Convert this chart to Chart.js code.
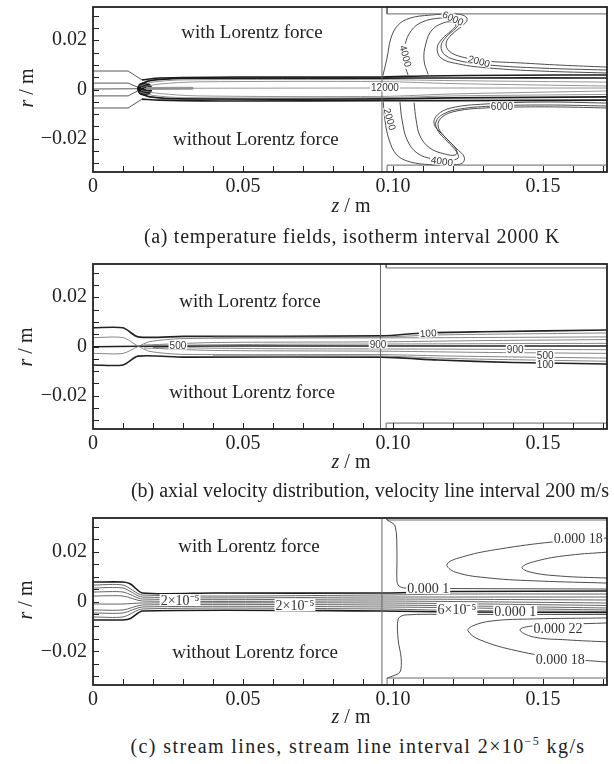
<!DOCTYPE html>
<html>
<head>
<meta charset="utf-8">
<script src="https://cdn.jsdelivr.net/npm/chart.js"></script>
<style>
  body { margin: 0; background: #fff; }
  #page { position: relative; width: 614px; height: 764px; overflow: hidden;
          font-family: 'Liberation Serif', 'Times New Roman', serif; color: #222; }
  canvas { position: absolute; left: 0; }
  .t { position: absolute; white-space: nowrap; transform: translate(-50%, -50%); font-size: 20px; }
  .ax { font-size: 20px; }
  .yl { font-size: 20px; transform: translate(-50%, -50%) rotate(-90deg); }
  sup { font-size: 12px; vertical-align: 8px; line-height: 0; }
</style>
</head>
<body>
<div id="page">
  <canvas id="ca" width="614" height="200" style="top:0"></canvas>
  <canvas id="cb" width="614" height="202" style="top:255px"></canvas>
  <canvas id="cc" width="614" height="203" style="top:510px"></canvas>

  <div class="t yl" style="left:26px;top:88px"><i>r</i> / m</div>
  <div class="t yl" style="left:25px;top:347px"><i>r</i> / m</div>
  <div class="t yl" style="left:25px;top:600px"><i>r</i> / m</div>

  <div class="t ax" style="left:351px;top:205px"><i>z</i> / m</div>
  <div class="t ax" style="left:351px;top:461px"><i>z</i> / m</div>
  <div class="t ax" style="left:351px;top:716px"><i>z</i> / m</div>

  <div class="t" style="left:352px;top:236px;letter-spacing:0.7px">(a) temperature fields, isotherm interval 2000 K</div>
  <div class="t" style="left:370px;top:490px">(b) axial velocity distribution, velocity line interval 200 m/s</div>
  <div class="t" style="left:358px;top:746px;letter-spacing:1.4px">(c) stream lines, stream line interval 2×10<sup>−5</sup> kg/s</div>
</div>
<script>
// axes (m)
const zTicks = [0, 0.05, 0.10, 0.15];
const zTickLabels = ['0', '0.05', '0.10', '0.15'];
const rTicks = [-0.02, 0, 0.02];
const rTickLabels = ['\u22120.02', '0', '0.02'];
const zMax = 0.1713, rMin = -0.0335, rMax = 0.0335;

// all contour coordinates below are [z, r] in mm

// (a) temperature
const domainA = [
  [[96.3, -33.5], [96.3, 33.5]],
  [[98, 33.5], [98, 30.7], [171.3, 30.7]],
  [[98, -33.5], [98, -30.7], [171.3, -30.7]]
];
const isoInletA = [
  [[0, 7.5], [11.7, 7.5], [16.3, 3.9]],
  [[0, 2.6], [11.7, 2.6], [14.8, 1.0]],
  [[0, 0.2], [14.8, 0.3]],
  [[0, -2.6], [11.7, -2.6], [14.8, -0.6]],
  [[0, -7.5], [11.7, -7.5], [16.3, -3.9]]
];
const isoJetEdgeA = [
  [[16.3, 3.9], [22.3, 4.7], [48, 5.1], [96.3, 5.1], [110, 5.5], [140, 5.8], [171.3, 5.9]],
  [[15.5, 2.0], [19, 3.6], [30, 4.5], [96.3, 4.6], [120, 4.7], [171.3, 4.7]],
  [[15.5, -1.5], [19, -3.0], [30, -3.8], [96.3, -3.8], [120, -3.4], [171.3, -3.0]],
  [[16.3, -3.9], [22.3, -4.3], [48, -4.7], [96.3, -4.5], [120, -4.5], [171.3, -4.3]]
];
const isoJetCoreA = [
  [[15.5, 1.4], [20, 3.0], [30, 3.9], [96.3, 4.0], [120, 3.6], [171.3, 3.0]],
  [[16, 0.8], [22, 2.2], [35, 3.1], [96.3, 3.2], [120, 2.4], [171.3, 1.4]],
  [[17, 0.4], [30, 0.5], [96.3, 0.6], [171.3, 0.6]],
  [[16, -0.4], [22, -1.6], [35, -2.6], [96.3, -2.8], [120, -1.8], [171.3, -0.6]],
  [[15.5, -1.0], [20, -2.4], [30, -3.3], [96.3, -3.3], [120, -2.6], [171.3, -2.0]]
];
const isoHotSpotA = [[[16.8, 0.2], [17.6, 0.2]]];
const isoWakeA = [[[18, 0.4], [33, 0.5]]];
const isoUpperA = [
  [[96.6, 5.6], [98, 12.8], [99.3, 20.9], [101.7, 26.2], [105.7, 29.0], [112.3, 30.2], [119, 30.6], [123.3, 30.2],
   [124.7, 28.4], [123, 25.8], [119.7, 22.5], [117.7, 18.9], [118.7, 15.6], [123, 13.2], [130.7, 11.6], [142.3, 10.8],
   [155.7, 9.9], [171.3, 9.1]],
  [[105, 5.9], [103.7, 11.2], [104, 18.1], [106, 23.8], [109.7, 27.4], [115.7, 29.0], [121, 29.0], [122.7, 27.8],
   [121, 25.0], [117.7, 21.3], [116, 17.7], [117.3, 14.0], [122.3, 11.6], [132.3, 9.9], [149, 8.7], [171.3, 7.9]],
  [[111.7, 6.1], [110.3, 12.0], [111, 18.9], [113, 24.2], [116.7, 27.0], [119.7, 27.4], [121, 26.2], [119.3, 23.8],
   [116.3, 20.5], [114.7, 16.8], [116, 12.8], [121.7, 10.4], [132.3, 8.7], [149, 7.5], [171.3, 6.7]]
];
const isoLowerA = [
  [[96.7, -4.9], [97.3, -12.4], [98.7, -20.5], [101.3, -26.6], [105.7, -29.4], [112.3, -30.5], [119, -30.5], [123, -30.0],
   [123.7, -27.4], [121, -23.8], [117, -18.9], [115, -14.8], [116.3, -11.2], [121.3, -8.7], [130.7, -7.5], [142.3, -7.1],
   [155.7, -7.1], [171.3, -7.5]],
  [[102.3, -5.1], [103, -12.4], [104.7, -20.5], [108, -25.8], [113.3, -28.2], [119, -28.6], [121.7, -27.8], [121, -25.0],
   [118, -21.0], [115, -16.9], [114.3, -13.2], [116.7, -10.0], [122.3, -7.9], [134, -6.7], [150.7, -6.3], [171.3, -6.7]],
  [[107, -5.3], [107.7, -12.4], [109, -18.9], [112.3, -23.8], [117.3, -26.2], [120.7, -26.6], [121.3, -25.0], [119.3, -21.7],
   [116, -17.7], [113.7, -14.0], [114.7, -10.4], [119.3, -7.5], [130.7, -5.9], [149, -5.1], [171.3, -5.5]]
];
const labelsA = [
  { t: '6000', z: 120, r: 29.0, a: 25 },
  { t: '4000', z: 104.3, r: 13.6, a: 75 },
  { t: '2000', z: 128.7, r: 11.6, a: 15 },
  { t: '12000', z: 97.3, r: 1.0, a: 0 },
  { t: '6000', z: 136.3, r: -6.7, a: 0 },
  { t: '2000', z: 99, r: -12.0, a: 75 },
  { t: '4000', z: 116.3, r: -29.0, a: 8 }
];
const notesA = [
  { t: 'with Lorentz force', z: 53, r: 22.9 },
  { t: 'without Lorentz force', z: 54.3, r: -20.5 }
];

// (b) axial velocity
const domainB = [
  [[95.8, -33.5], [95.8, 33.5]],
  [[97.7, 33.5], [97.7, 31.9], [171.3, 31.9]],
  [[97.7, -33.5], [97.7, -31.1], [171.3, -31.1]]
];
const velEdgeB = [
  [[0, 7.6], [10, 7.6], [15, 3.9], [30, 4.1], [96.3, 4.3], [110, 5.5], [130, 6.0], [171.3, 6.7]],
  [[0, -7.5], [10, -7.5], [15, -3.9], [30, -4.3], [96.3, -4.3], [115, -5.5], [140, -6.5], [171.3, -7.1]],
  [[0, -0.1], [15, 0.1], [40, 0.2], [96.3, 0.2], [171.3, 0.2]]
];
const velInnerB = [
  [[0, 3.6], [10, 3.6], [15, 0.2], [19, -2.0], [30, -3.2], [96.3, -3.3], [120, -3.9], [171.3, -4.7]],
  [[0, -2.8], [10, -2.8], [15, 0.0], [19, 2.0], [30, 3.2], [96.3, 3.5], [120, 3.6], [171.3, 3.9]],
  [[17, 0.6], [40, 1.6], [96.3, 1.9], [130, 2.4], [171.3, 2.8]],
  [[17, -0.6], [40, -1.6], [96.3, -1.9], [130, -2.4], [171.3, -2.8]],
  [[20, 0.4], [60, 0.9], [96.3, 1.0], [171.3, 1.3]],
  [[20, -0.4], [60, -0.9], [96.3, -1.0], [171.3, -1.3]],
  [[40, 3.8], [96.3, 3.9], [115, 4.7], [171.3, 5.5]],
  [[40, -3.8], [96.3, -3.9], [120, -4.9], [171.3, -6.0]]
];
const labelsB = [
  { t: '500', z: 28.3, r: 0.6, a: 0 },
  { t: '900', z: 95, r: 1.0, a: 0 },
  { t: '100', z: 111.7, r: 5.5, a: -3 },
  { t: '900', z: 140.7, r: -1.0, a: 0 },
  { t: '500', z: 150.7, r: -3.5, a: 0 },
  { t: '100', z: 150.7, r: -7.1, a: 0 }
];
const notesB = [
  { t: 'with Lorentz force', z: 52.3, r: 18.1 },
  { t: 'without Lorentz force', z: 53, r: -18.9 }
];

// (c) stream lines
const domainC = [
  [[96.3, -33.5], [96.3, 33.5]],
  [[98, 33.5], [98, 32.7], [171.3, 32.7]],
  [[98, -33.5], [98, -30.7], [171.3, -30.7]]
];
const streamEdgeC = [
  [[0, 7.8], [10, 7.8], [12.5, 7.0], [16.5, 3.4], [40, 3.4], [96.3, 3.4], [120, 4.0], [171.3, 4.2]],
  [[0, -7.4], [10, -7.4], [12.5, -6.8], [16.5, -3.8], [96.3, -3.8], [120, -4.2], [171.3, -4.4]]
];
const streamInnerC = [
  [[0, 6.6], [10, 6.6], [16.5, 2.6], [96.3, 2.6], [120, 3.0], [171.3, 3.0]],
  [[0, 5.4], [10, 5.4], [16.5, 1.8], [96.3, 1.8], [171.3, 1.8]],
  [[0, 3.8], [10, 3.8], [16.5, 1.0], [96.3, 1.0], [171.3, 0.6]],
  [[0, 2.2], [10, 2.2], [16.5, 0.2], [96.3, 0.2], [171.3, -0.6]],
  [[0, -1.0], [10, -1.0], [16.5, -0.6], [96.3, -0.6], [171.3, -1.6]],
  [[0, -3.4], [10, -3.4], [16.5, -1.4], [96.3, -1.4], [171.3, -2.6]],
  [[0, -4.6], [10, -4.6], [16.5, -2.2], [96.3, -2.2], [171.3, -3.4]],
  [[0, -6.2], [10, -6.2], [16.5, -3.0], [96.3, -3.0], [120, -3.6], [171.3, -4.0]]
];
const streamWallC = [
  [[98, 32.7], [100.7, 30.3], [101.3, 18.6], [101.3, 8.2], [102, 6.2], [104, 5.4], [120, 5.2], [171.3, 5.0]],
  [[171.3, -5.2], [120, -5.2], [104, -5.4], [101.7, -7.0], [101.7, -15.4], [102.7, -22.7], [102.3, -28.3], [99, -30.3], [98, -30.7]]
];
const streamCellC = [
  [[171.3, 25.5], [153.3, 23.9], [135.7, 21.1], [124, 18.2], [118, 15.0], [120.7, 11.8], [132.3, 9.4], [149, 8.2], [171.3, 7.4]],
  [[171.3, 19.8], [159, 18.6], [149, 16.6], [143, 13.8], [145.7, 11.8], [155.7, 10.2], [171.3, 9.4]],
  [[171.3, -6.6], [146.7, -7.0], [133, -7.8], [126.5, -9.8], [125, -11.8], [129, -15.4], [141.3, -19.8], [155.7, -22.7], [171.3, -24.3]],
  [[171.3, -8.6], [146.7, -9.8], [142.3, -11.4], [146.7, -14.2], [158, -15.4], [171.3, -16.2]]
];
const labelsC = [
  { t: '2×10⁻⁵', z: 29, r: 0.6, a: 0 },
  { t: '2×10⁻⁵', z: 67.3, r: -1.4, a: 0 },
  { t: '0.000 18', z: 161.7, r: 25.5, a: 0 },
  { t: '0.000 1', z: 111.7, r: 5.4, a: 0 },
  { t: '6×10⁻⁵', z: 121.3, r: -3.0, a: 0 },
  { t: '0.000 1', z: 140.7, r: -3.8, a: 0 },
  { t: '0.000 22', z: 155, r: -10.6, a: 0 },
  { t: '0.000 18', z: 155.7, r: -23.1, a: 0 }
];
const notesC = [
  { t: 'with Lorentz force', z: 52, r: 21.9 },
  { t: 'without Lorentz force', z: 54, r: -20.7 }
];

const SERIF = "'Liberation Serif', 'Times New Roman', serif";

function lines(list, color, width, tension, cap) {
  return list.map(l => ({
    data: l.map(([z, r]) => ({ x: z / 1000, y: r / 1000 })),
    showLine: true, pointRadius: 0, fill: false,
    borderColor: color, borderWidth: width, tension: tension || 0,
    borderCapStyle: cap || 'butt'
  }));
}

function frame(labels, notes, labelFont, labelH) {
  return {
    id: 'frame',
    afterDatasetsDraw(chart) {
      const { ctx, chartArea: a, scales: { x, y } } = chart;
      ctx.save();
      // contour labels
      ctx.font = labelFont;
      ctx.textAlign = 'center';
      ctx.textBaseline = 'middle';
      labels.forEach(l => {
        const px = x.getPixelForValue(l.z / 1000), py = y.getPixelForValue(l.r / 1000);
        const w = ctx.measureText(l.t).width;
        ctx.save();
        ctx.translate(px, py);
        ctx.rotate(l.a * Math.PI / 180);
        ctx.fillStyle = '#fff';
        ctx.fillRect(-w / 2 - 1, -labelH / 2, w + 2, labelH);
        ctx.fillStyle = '#333';
        ctx.fillText(l.t, 0, 1);
        ctx.restore();
      });
      // region notes
      ctx.font = '19px ' + SERIF;
      ctx.fillStyle = '#222';
      notes.forEach(n => ctx.fillText(n.t, x.getPixelForValue(n.z / 1000), y.getPixelForValue(n.r / 1000)));
      // inward ticks
      ctx.strokeStyle = '#222';
      ctx.lineWidth = 1;
      ctx.beginPath();
      for (let i = 1; i <= 17; i++) {
        const px = Math.round(x.getPixelForValue(i / 100)) + 0.5;
        ctx.moveTo(px, a.bottom);
        ctx.lineTo(px, a.bottom - 6);
      }
      for (let i = -6; i <= 6; i++) {
        const py = Math.round(y.getPixelForValue(i * 0.005)) + 0.5;
        ctx.moveTo(a.left, py);
        ctx.lineTo(a.left + 6, py);
      }
      ctx.stroke();
      // box
      ctx.lineWidth = 1.8;
      ctx.strokeRect(a.left, a.top, a.right - a.left, a.bottom - a.top);
      ctx.restore();
    }
  };
}

function makeChart(id, padTop, datasets, labels, notes, labelFont, labelH) {
  return new Chart(document.getElementById(id), {
    type: 'scatter',
    data: { datasets },
    options: {
      responsive: false, animation: false, events: [],
      layout: { padding: { top: padTop, right: 7, left: 0, bottom: 0 } },
      plugins: { legend: { display: false }, tooltip: { enabled: false } },
      scales: {
        x: {
          type: 'linear', min: 0, max: zMax,
          afterBuildTicks: s => { s.ticks = zTicks.map(v => ({ value: v })); },
          afterFit: s => { s.height = 28; s.paddingLeft = 0; s.paddingRight = 0; },
          grid: { display: false, drawTicks: false }, border: { display: false },
          ticks: { autoSkip: false, maxRotation: 0, padding: 3, color: '#222',
                   font: { family: SERIF, size: 20 }, callback: (v, i) => zTickLabels[i] }
        },
        y: {
          type: 'linear', min: rMin, max: rMax,
          afterBuildTicks: s => { s.ticks = rTicks.map(v => ({ value: v })); },
          afterFit: s => { s.width = 93; s.paddingTop = 0; s.paddingBottom = 0; },
          grid: { display: false, drawTicks: false }, border: { display: false },
          ticks: { autoSkip: false, padding: 6, color: '#222',
                   font: { family: SERIF, size: 20 }, callback: (v, i) => rTickLabels[i] }
        }
      }
    },
    plugins: [frame(labels, notes, labelFont, labelH)]
  });
}

const SANS_LABEL = "10px 'Liberation Sans', Arial, sans-serif";
const SERIF_LABEL = "14px " + SERIF;

makeChart('ca', 7, [
  ...lines(domainA, '#666', 1),
  ...lines(isoInletA, '#444', 0.9),
  ...lines(isoJetCoreA, '#8a8a8a', 0.9, 0.3),
  ...lines(isoJetEdgeA, '#1c1c1c', 1.6, 0.3),
  ...lines(isoWakeA, '#999', 3, 0, 'round'),
  ...lines(isoHotSpotA, '#161616', 13, 0, 'round'),
  ...lines(isoUpperA, '#3a3a3a', 0.9, 0.4),
  ...lines(isoLowerA, '#3a3a3a', 0.9, 0.4)
], labelsA, notesA, SANS_LABEL, 9);

makeChart('cb', 9, [
  ...lines(domainB, '#666', 1),
  ...lines(velInnerB, '#777', 0.9, 0.25),
  ...lines(velEdgeB, '#222', 1.6, 0.25)
], labelsB, notesB, SANS_LABEL, 9);

makeChart('cc', 8, [
  ...lines(domainC, '#666', 1),
  ...lines(streamInnerC, '#555', 0.9, 0.25),
  ...lines(streamEdgeC, '#1c1c1c', 1.6, 0.25),
  ...lines(streamWallC, '#3a3a3a', 0.9, 0.3),
  ...lines(streamCellC, '#3a3a3a', 0.9, 0.4)
], labelsC, notesC, SERIF_LABEL, 12);
</script>
</body>
</html>
